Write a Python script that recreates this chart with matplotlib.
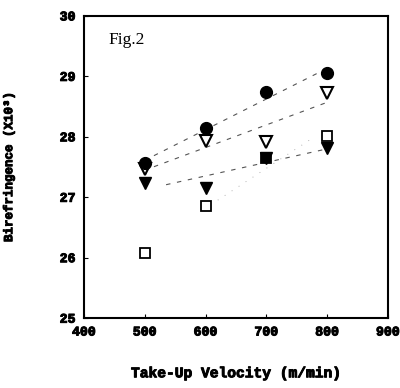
import numpy as np
import matplotlib
matplotlib.use("Agg")
import matplotlib.pyplot as plt
import matplotlib.patheffects as pe

# take-up velocity (m/min)
velocity = [500, 600, 700, 800]

# birefringence (x10^3)
bf_circle = [27.56, 28.14, 28.74, 29.05]      # filled circles
bf_tri_open = [27.47, 27.93, 27.92, 28.72]    # open down triangles
bf_tri_fill = [27.24, 27.15, 27.65, 27.82]    # filled down triangles
bf_square = [26.08, 26.86, 27.65, 28.01]      # squares (700 one looks filled)
square_face = ['white', 'white', 'black', 'white']

xticks = [400, 500, 600, 700, 800, 900]
yticks = [25, 26, 27, 28, 29, 30]

mono = 'Liberation Mono'
heavy = [pe.withStroke(linewidth=0.7, foreground='black')]

fig = plt.figure(figsize=(4, 3.88), dpi=100)
ax = fig.add_axes([0.21, 0.18, 0.76, 0.779])


def fit_line(x, y, x0, x1, **kw):
    k, b = np.polyfit(x, y, 1)
    xx = np.array([x0, x1])
    ax.plot(xx, k * xx + b, **kw)


fit_line(velocity, bf_circle, 515, 800, color='#555555', lw=0.8, ls=(0, (4, 6)))
fit_line(velocity, bf_tri_open, 515, 800, color='#555555', lw=0.8, ls=(0, (4, 6)))
fit_line(velocity, bf_tri_fill, 535, 800, color='#555555', lw=0.8, ls=(0, (4, 6)))
fit_line(velocity, bf_square, 620, 780, color='#999999', lw=0.6, ls=(0, (1, 9)))

ax.plot(velocity, bf_tri_fill, 'v', color='black', ms=8.5, ls='none')
ax.plot(velocity, bf_tri_open, 'v', mfc='white', mec='black', mew=1.5, ms=8.5, ls='none')
ax.plot(velocity, bf_circle, 'o', color='black', ms=8.5, ls='none')
for v, b, fc in zip(velocity, bf_square, square_face):
    ax.plot(v, b, 's', mfc=fc, mec='black', mew=1.3, ms=7.5, ls='none')

ax.set_xlim(400, 900)
ax.set_ylim(25, 30)
ax.set_xticks(xticks)
ax.set_yticks(yticks)
ax.tick_params(direction='in', length=3, width=0.8, pad=6)
for lab in ax.get_xticklabels() + ax.get_yticklabels():
    lab.set_fontfamily(mono)
    lab.set_fontweight('bold')
    lab.set_fontsize(9.5)
    lab.set_path_effects(heavy)
for s in ax.spines.values():
    s.set_linewidth(1.5)

ax.text(0.08, 0.92, 'Fig.2', transform=ax.transAxes, fontsize=12.5,
        family='Liberation Serif', va='center')

ax.set_xlabel('Take-Up Velocity (m/min)', family=mono, fontweight='bold',
              fontsize=10.5, labelpad=20, path_effects=heavy)
ax.set_ylabel('Birefringence (X10³)', family=mono, fontweight='bold',
              fontsize=9, labelpad=32, path_effects=heavy)

fig.savefig('out.png', dpi=100)
